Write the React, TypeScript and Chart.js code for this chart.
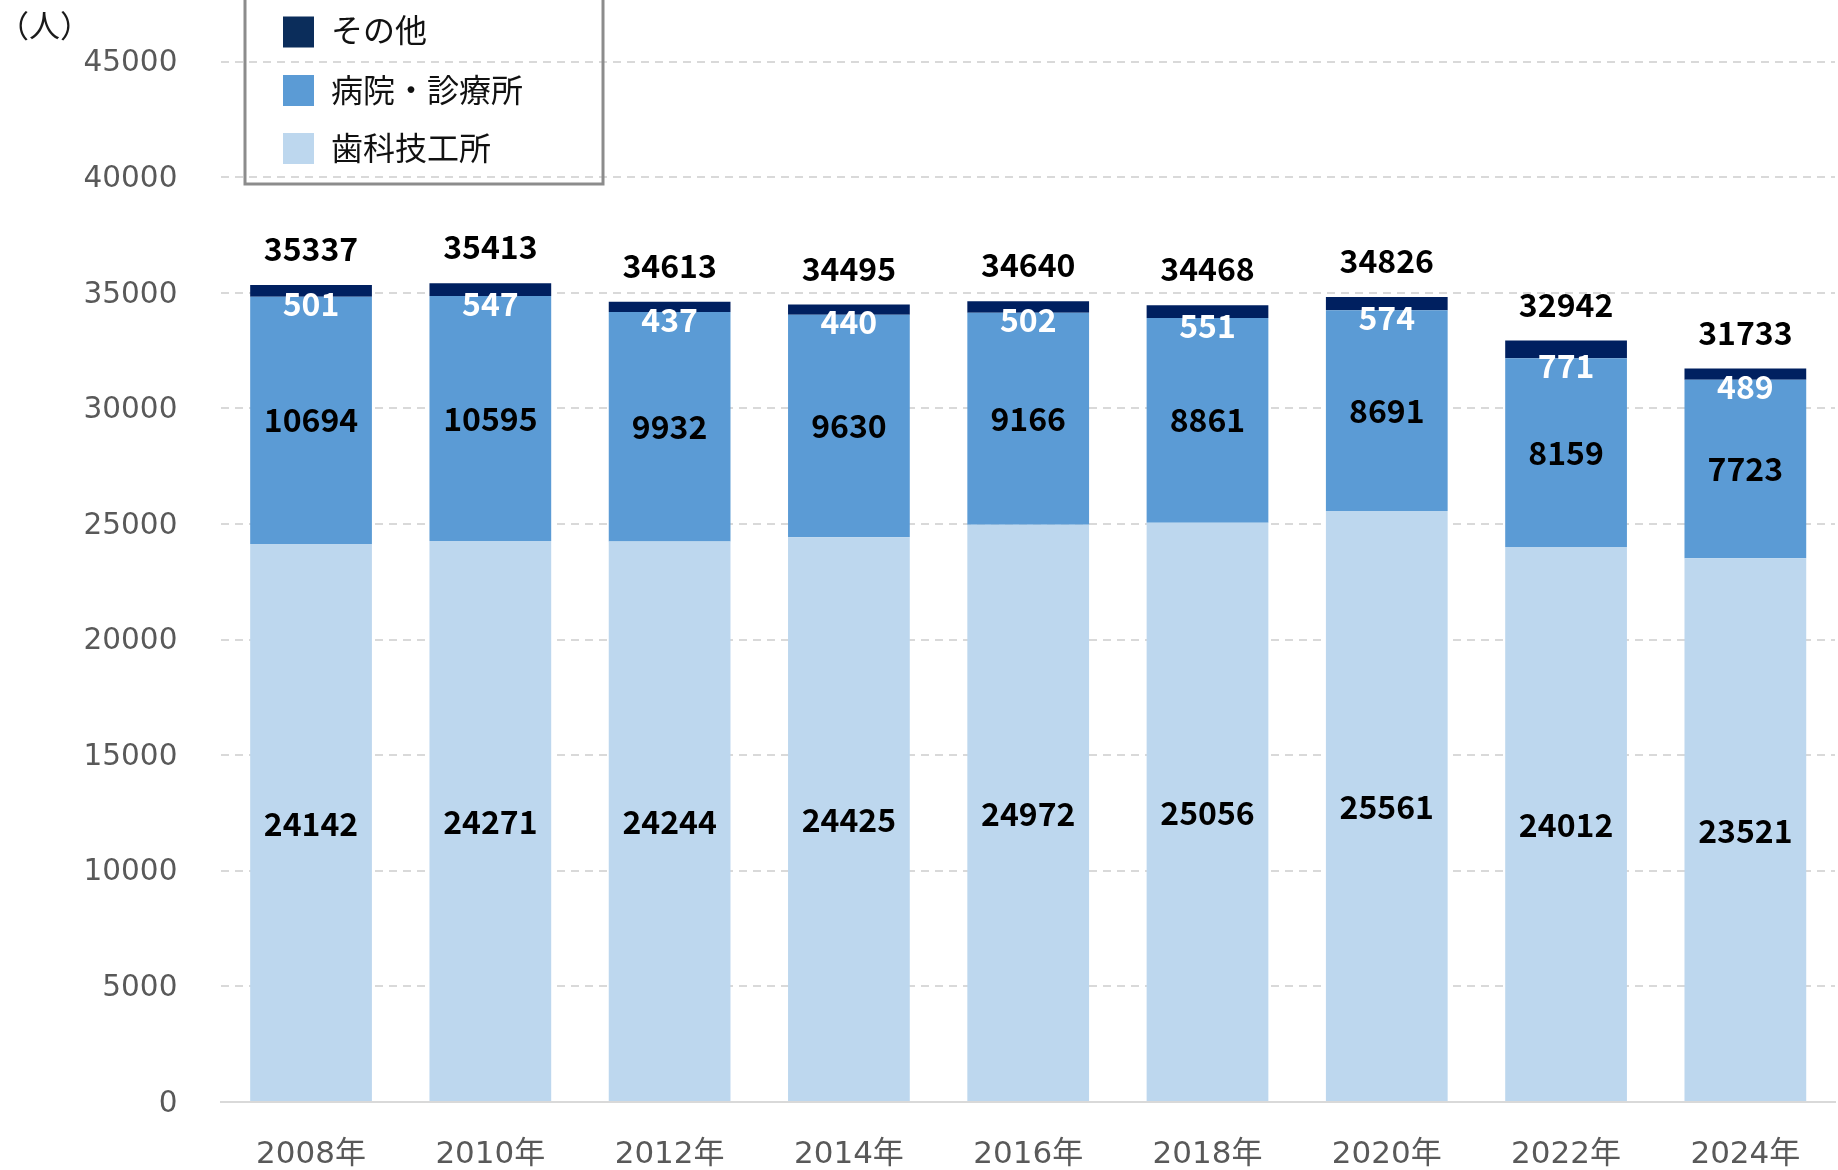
import React, { useEffect, useRef } from "react";
import { Chart, registerables } from "chart.js";

Chart.register(...registerables);

const years = ["2008年", "2010年", "2012年", "2014年", "2016年", "2018年", "2020年", "2022年", "2024年"];
const dentalLab = [24142, 24271, 24244, 24425, 24972, 25056, 25561, 24012, 23521];
const hospital = [10694, 10595, 9932, 9630, 9166, 8861, 8691, 8159, 7723];
const others = [501, 547, 437, 440, 502, 551, 574, 771, 489];
const totals = [35337, 35413, 34613, 34495, 34640, 34468, 34826, 32942, 31733];

const seriesNames = ["歯科技工所", "病院・診療所", "その他"];
const colors = ["#BDD7EE", "#5B9BD5", "#002060"];
const legendSwatch = ["#BDD7EE", "#5B9BD5", "#0B2D5B"];
const unitLabel = "（人）";

const FONT = '"Noto Sans CJK JP", "Noto Sans", sans-serif';
const AXIS_FONT = '"DejaVu Sans", "Noto Sans CJK JP", sans-serif';

const labelPlugin = {
  id: "customLabels",
  afterDatasetsDraw(chart: any) {
    const ctx = chart.ctx;
    ctx.save();
    ctx.textAlign = "center";
    ctx.textBaseline = "middle";
    ctx.font = `bold 32px ${FONT}`;
    const m0 = chart.getDatasetMeta(0);
    const m1 = chart.getDatasetMeta(1);
    const m2 = chart.getDatasetMeta(2);
    for (let i = 0; i < years.length; i++) {
      const b0 = m0.data[i];
      const b1 = m1.data[i];
      const b2 = m2.data[i];
      ctx.fillStyle = "#000000";
      ctx.fillText(String(dentalLab[i]), b0.x, (b0.y + b0.base) / 2 + 1);
      ctx.fillText(String(hospital[i]), b1.x, (b1.y + b1.base) / 2);
      ctx.fillText(String(totals[i]), b2.x, b2.y - 36);
      ctx.fillStyle = "#FFFFFF";
      ctx.fillText(String(others[i]), b2.x, b2.base + 7.5);
    }
    ctx.restore();
  },
  afterDraw(chart: any) {
    const ctx = chart.ctx;
    ctx.save();
    // unit label
    ctx.fillStyle = "#1A1A1A";
    ctx.font = `31px ${FONT}`;
    ctx.textAlign = "left";
    ctx.textBaseline = "middle";
    ctx.fillText(unitLabel, -2, 25);
    // legend box
    ctx.strokeStyle = "#8C8C8C";
    ctx.lineWidth = 3;
    ctx.strokeRect(245, -10, 358, 194);
    const rows = [2, 1, 0];
    const swatchY = [32, 90.5, 148.5];
    const textY = [30, 89.5, 147.5];
    ctx.font = `32px ${FONT}`;
    rows.forEach((d, k) => {
      ctx.fillStyle = legendSwatch[d];
      ctx.fillRect(283, swatchY[k] - 15.5, 31, 31);
      ctx.fillStyle = "#111111";
      ctx.fillText(seriesNames[d], 331, textY[k]);
    });
    ctx.restore();
  },
};

export default function App() {
  const ref = useRef<HTMLCanvasElement>(null);
  useEffect(() => {
    if (!ref.current) return;
    const chart = new Chart(ref.current, {
      type: "bar",
      data: {
        labels: years,
        datasets: [
          { label: seriesNames[0], data: dentalLab, backgroundColor: colors[0] },
          { label: seriesNames[1], data: hospital, backgroundColor: colors[1] },
          { label: seriesNames[2], data: others, backgroundColor: colors[2] },
        ],
      },
      options: {
        animation: false,
        responsive: false,
        maintainAspectRatio: false,
        layout: { padding: { left: 0, right: 3, top: 56.2, bottom: 0 } },
        plugins: {
          legend: { display: false },
          tooltip: { enabled: false },
          title: { display: false },
        },
        datasets: {
          bar: { categoryPercentage: 1, barPercentage: 0.679 },
        },
        scales: {
          x: {
            stacked: true,
            grid: { display: false, drawTicks: false },
            border: { display: true, color: "#D9D9D9", width: 2 },
            ticks: {
              color: "#595959",
              font: { family: AXIS_FONT, size: 31 },
              padding: 34,
              maxRotation: 0,
              autoSkip: false,
            },
            afterFit: (s: any) => {
              s.height = 68;
            },
          },
          y: {
            stacked: true,
            min: 0,
            max: 45000,
            grid: { color: "#D9D9D9", lineWidth: 2, drawTicks: false },
            border: { display: false, dash: [8, 6] },
            ticks: {
              stepSize: 5000,
              color: "#595959",
              font: { family: AXIS_FONT, size: 29.5 },
              padding: 44,
              labelOffset: 2,
              callback: (v: any) => String(v),
            },
            afterFit: (s: any) => {
              s.width = 221.4;
            },
          },
        },
      },
      plugins: [labelPlugin],
    });
    return () => chart.destroy();
  }, []);
  return (
    <div style={{ position: "fixed", left: 0, top: 0, width: 1838, height: 1170, background: "#fff" }}>
      <canvas ref={ref} width={1838} height={1170} style={{ width: 1838, height: 1170, display: "block" }} />
    </div>
  );
}
